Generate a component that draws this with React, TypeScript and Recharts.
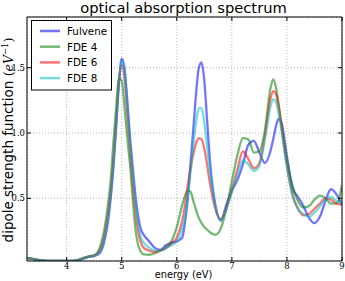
import React from 'react';
import { ComposedChart, Line, XAxis, YAxis, CartesianGrid, Legend, Label } from 'recharts';

const energies = [3.28,3.4,3.5,3.6,3.7,3.8,3.9,4.0,4.1,4.2,4.3,4.4,4.5,4.6,4.7,4.75,4.8,4.85,4.9,4.95,5.0,5.05,5.1,5.15,5.2,5.25,5.3,5.35,5.4,5.5,5.6,5.7,5.8,5.9,6.0,6.1,6.15,6.2,6.25,6.3,6.35,6.4,6.45,6.5,6.55,6.6,6.7,6.8,6.9,7.0,7.1,7.2,7.3,7.4,7.5,7.6,7.7,7.75,7.8,7.85,7.9,8.0,8.1,8.2,8.3,8.4,8.5,8.6,8.7,8.8,8.9,9.0];

const fulvene = [0.042,0.034,0.027,0.023,0.021,0.02,0.02,0.02,0.021,0.025,0.038,0.052,0.058,0.08,0.2,0.32,0.5,0.74,1.05,1.38,1.57,1.5,1.26,0.97,0.74,0.52,0.36,0.26,0.22,0.17,0.12,0.105,0.14,0.16,0.17,0.2,0.32,0.5,0.77,1.03,1.3,1.5,1.54,1.4,1.1,0.8,0.45,0.33,0.45,0.56,0.64,0.76,0.91,0.94,0.85,0.77,0.86,0.95,1.05,1.11,1.08,0.82,0.58,0.51,0.44,0.35,0.31,0.36,0.48,0.57,0.53,0.45];

const fde4 = [0.042,0.034,0.027,0.023,0.021,0.02,0.02,0.02,0.021,0.027,0.042,0.056,0.065,0.12,0.3,0.45,0.64,0.93,1.2,1.42,1.4,1.2,0.97,0.76,0.5,0.26,0.14,0.09,0.07,0.068,0.08,0.1,0.12,0.17,0.28,0.45,0.52,0.56,0.55,0.48,0.41,0.35,0.31,0.28,0.26,0.24,0.22,0.27,0.42,0.63,0.83,0.96,0.95,0.85,0.86,1.02,1.34,1.41,1.35,1.22,1.07,0.79,0.6,0.48,0.43,0.44,0.49,0.52,0.5,0.46,0.46,0.6];

const fde6 = [0.042,0.034,0.027,0.023,0.021,0.02,0.02,0.02,0.021,0.025,0.04,0.054,0.06,0.1,0.25,0.38,0.55,0.8,1.1,1.4,1.52,1.42,1.15,0.88,0.62,0.4,0.24,0.16,0.12,0.1,0.09,0.1,0.12,0.15,0.2,0.33,0.45,0.6,0.73,0.84,0.92,0.96,0.95,0.88,0.76,0.62,0.42,0.34,0.42,0.56,0.72,0.86,0.8,0.73,0.77,0.98,1.26,1.32,1.3,1.2,1.05,0.75,0.53,0.42,0.37,0.38,0.42,0.46,0.5,0.49,0.46,0.45];

const fde8 = [0.042,0.034,0.027,0.023,0.021,0.02,0.02,0.02,0.021,0.025,0.039,0.053,0.059,0.09,0.23,0.36,0.53,0.77,1.08,1.4,1.55,1.46,1.2,0.93,0.68,0.47,0.3,0.2,0.16,0.12,0.1,0.1,0.12,0.14,0.17,0.27,0.36,0.52,0.7,0.9,1.08,1.19,1.19,1.08,0.9,0.72,0.44,0.33,0.42,0.55,0.68,0.79,0.76,0.71,0.75,0.95,1.2,1.26,1.24,1.15,1.02,0.74,0.52,0.42,0.38,0.36,0.39,0.44,0.49,0.51,0.48,0.46];

const xTicks = [4, 5, 6, 7, 8, 9];
const yTicks = [0.5, 1.0, 1.5];
const seriesKeys = ['fulvene', 'fde4', 'fde6', 'fde8'];
const seriesNames = ['Fulvene', 'FDE 4', 'FDE 6', 'FDE 8'];
const seriesColors = ['#0000ff', '#008000', '#ff0000', '#00bfbf'];

const SANS = '"DejaVu Sans", "Liberation Sans", sans-serif';
const SERIF = '"DejaVu Serif", "Liberation Serif", serif';
const TICK_LEN = 4;
const LINE_OPACITY = 0.55;

const BottomTick = (props: any) => {
  const { x, y, payload } = props;
  return (
    <g>
      <line x1={x} x2={x} y1={y} y2={y - TICK_LEN} stroke="#000" strokeWidth={1} />
      <text x={x} y={y + 7.8} textAnchor="middle" fontSize={8.5} fontFamily={SERIF} fill="#000">{payload.value}</text>
    </g>
  );
};

const TopTick = (props: any) => {
  const { x, y } = props;
  return <line x1={x} x2={x} y1={y} y2={y + TICK_LEN} stroke="#000" strokeWidth={1} />;
};

const LeftTick = (props: any) => {
  const { x, y, payload } = props;
  return (
    <g>
      <line x1={x} x2={x + TICK_LEN} y1={y} y2={y} stroke="#000" strokeWidth={1} />
      <text x={x - 2} y={y + 3} textAnchor="end" fontSize={8.5} fontFamily={SERIF} fill="#000">{Number(payload.value).toFixed(1)}</text>
    </g>
  );
};

const RightTick = (props: any) => {
  const { x, y } = props;
  return <line x1={x} x2={x - TICK_LEN} y1={y} y2={y} stroke="#000" strokeWidth={1} />;
};

const XLabel = (props: any) => {
  const vb = props.viewBox;
  return (
    <text x={vb.x + vb.width / 2 - 1} y={vb.y + vb.height - 2.8} textAnchor="middle" fontSize={9.8} fontFamily={SANS} fill="#000">energy (eV)</text>
  );
};

const TitleLabel = (props: any) => {
  const vb = props.viewBox;
  return (
    <text x={vb.x + vb.width / 2 - 1} y={vb.y + 12.5} textAnchor="middle" fontSize={14.7} fontFamily={SANS} fill="#000">optical absorption spectrum</text>
  );
};

const YLabel = (props: any) => {
  const vb = props.viewBox;
  const cx = vb.x + 12.5;
  const cy = vb.y + vb.height / 2 + 1;
  return (
    <text x={cx} y={cy} transform={`rotate(-90, ${cx}, ${cy})`} textAnchor="middle" fontSize={13.5} fill="#000">
      <tspan fontFamily={SANS}>dipole strength function </tspan>
      <tspan fontFamily={SERIF} fontSize={12.5}>(</tspan>
      <tspan fontFamily={SERIF} fontStyle="italic" fontSize={12.5}>eV</tspan>
      <tspan fontFamily={SERIF} fontSize={8.5} dy={-5}>−1</tspan>
      <tspan fontFamily={SERIF} fontSize={12.5} dy={5}>)</tspan>
    </text>
  );
};

const LegendBox = () => (
  <svg width={81} height={71} style={{ display: 'block' }}>
    <rect x={0.5} y={0.5} width={80} height={69.5} fill="#fff" stroke="#000" strokeWidth={1} />
    {seriesNames.map((name, i) => (
      <g key={name}>
        <line x1={9} x2={29} y1={11 + i * 15.7} y2={11 + i * 15.7} stroke={seriesColors[i]} strokeOpacity={LINE_OPACITY} strokeWidth={2.5} />
        <text x={36} y={14.8 + i * 15.7} fontSize={10.3} fontFamily={SANS} fill="#000">{name}</text>
      </g>
    ))}
  </svg>
);

export default function App() {
  const data = energies.map((e, i) => ({
    e,
    fulvene: fulvene[i],
    fde4: fde4[i],
    fde6: fde6[i],
    fde8: fde8[i],
  }));
  return (
    <div style={{ position: 'absolute', left: 0, top: 0, width: 345, height: 281, background: '#fff' }}>
      <ComposedChart width={345} height={281} data={data} margin={{ top: 0, right: 0, bottom: 0, left: 0 }}>
        <CartesianGrid stroke="#999" strokeDasharray="1 2" strokeWidth={0.7} />
        <XAxis dataKey="e" type="number" domain={[3.28, 9]} ticks={xTicks} allowDataOverflow interval={0}
          height={20} tickSize={0} tickMargin={0} tickLine={false} axisLine={{ stroke: '#000', strokeWidth: 1 }}
          tick={(p: any) => <BottomTick {...p} />}>
          <Label content={XLabel} />
        </XAxis>
        <XAxis xAxisId="top" orientation="top" dataKey="e" type="number" domain={[3.28, 9]} ticks={xTicks} allowDataOverflow interval={0}
          height={17} tickSize={0} tickMargin={0} tickLine={false} axisLine={{ stroke: '#000', strokeWidth: 1 }}
          tick={(p: any) => <TopTick {...p} />}>
          <Label content={TitleLabel} />
        </XAxis>
        <YAxis type="number" domain={[0.02, 1.888]} ticks={yTicks} allowDataOverflow interval={0}
          width={27} tickSize={0} tickMargin={0} tickLine={false} axisLine={{ stroke: '#000', strokeWidth: 1 }}
          tick={(p: any) => <LeftTick {...p} />}>
          <Label content={YLabel} />
        </YAxis>
        <YAxis yAxisId="right" orientation="right" type="number" domain={[0.02, 1.888]} ticks={yTicks} allowDataOverflow interval={0}
          width={3} tickSize={0} tickMargin={0} tickLine={false} axisLine={{ stroke: '#000', strokeWidth: 1 }}
          tick={(p: any) => <RightTick {...p} />} />
        <Legend layout="vertical" align="center" verticalAlign="middle"
          wrapperStyle={{ left: 31, top: 20, width: 81, height: 71 }}
          content={() => <LegendBox />} />
        {seriesKeys.map((k, i) => (
          <Line key={k} type="monotone" dataKey={k} name={seriesNames[i]} stroke={seriesColors[i]} strokeOpacity={LINE_OPACITY}
            strokeWidth={2.3} dot={false} activeDot={false} isAnimationActive={false} />
        ))}
      </ComposedChart>
    </div>
  );
}
